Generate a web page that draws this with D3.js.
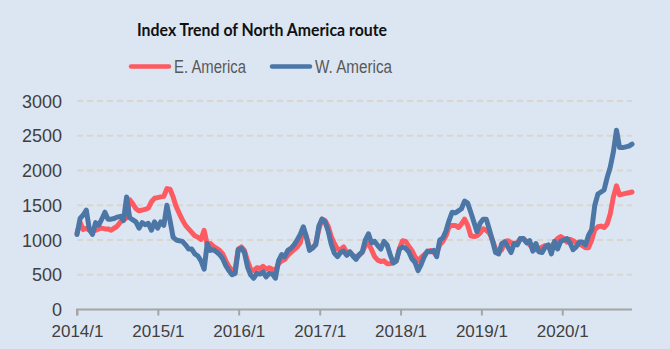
<!DOCTYPE html>
<html>
<head>
<meta charset="utf-8">
<script src="https://cdn.jsdelivr.net/npm/d3@7"></script>
<style>
  html, body { margin: 0; padding: 0; background: #dce6f2; }
  svg { display: block; }
</style>
</head>
<body>
<svg id="chart"></svg>
<script>
// biweekly index readings, first week of 2014 onwards
const eastAmerica = [
  1100, 1250, 1150, 1170, 1140, 1140, 1140, 1160, 1170, 1160,
  1160, 1140, 1170, 1200, 1260, 1290, 1320, 1580, 1520, 1450,
  1420, 1430, 1440, 1460, 1550, 1600, 1610, 1620, 1630, 1740,
  1730, 1620, 1480, 1380, 1290, 1210, 1160, 1110, 1060, 1040,
  1010, 1140, 930, 950, 910, 880, 850, 800, 700, 620,
  560, 580, 870, 900, 850, 700, 580, 560, 600, 590,
  620, 580, 600, 580, 560, 660, 700, 720, 780, 820,
  860, 900, 960, 1150, 1050, 880, 880, 950, 1150, 1300,
  1280, 1200, 1050, 950, 870, 860, 900, 820, 830, 780,
  760, 780, 820, 920, 950, 860, 760, 710, 690, 700,
  660, 660, 670, 700, 880, 990, 980, 910, 850, 760,
  700, 750, 790, 830, 850, 820, 810, 930, 980, 1060,
  1190, 1210, 1210, 1180, 1230, 1300, 1210, 1060, 1050, 1060,
  1100, 1160, 1140, 1100, 1000, 870, 820, 860, 980, 990,
  960, 950, 960, 1020, 1010, 980, 930, 880, 860, 870,
  900, 920, 900, 910, 960, 1020, 1050, 1020, 970, 1010,
  990, 960, 940, 920, 890, 890, 1000, 1150, 1190, 1200,
  1180, 1230, 1380, 1620, 1780, 1650, 1660, 1670, 1680, 1690
];
const westAmerica = [
  1080, 1310, 1360, 1430, 1150, 1080, 1250, 1215, 1300, 1400,
  1300, 1300, 1310, 1330, 1340, 1280, 1620, 1320, 1290, 1260,
  1170, 1250, 1220, 1240, 1140, 1260, 1170, 1260, 1210, 1500,
  1280, 1040, 1000, 990, 980, 930, 870, 870, 800, 770,
  700, 580, 950, 850, 860, 830, 790, 730, 630, 560,
  500, 520, 860, 880, 820, 610, 500, 450, 520, 510,
  540, 470, 520, 510, 450, 700, 790, 760, 850, 880,
  930, 1000, 1080, 1190, 1040, 850, 890, 930, 1200, 1300,
  1260, 1130, 940, 810, 760, 820, 840, 780, 830, 770,
  720, 790, 830, 1000, 1090, 960, 980, 920, 870, 980,
  930, 790, 670, 700, 870, 900, 880, 830, 730, 680,
  560, 650, 760, 840, 830, 850, 760, 1000, 1030, 1130,
  1280, 1400, 1390, 1420, 1450, 1560, 1530, 1400, 1260, 1120,
  1240, 1300, 1300, 1150, 990, 820, 800, 950, 970, 900,
  820, 950, 930, 1020, 1020, 960, 990, 840, 950, 830,
  820, 900, 930, 800, 980, 870, 980, 1000, 1020, 960,
  860, 900, 970, 970, 930, 1070, 1150, 1500, 1660, 1690,
  1720, 1900, 2050, 2270, 2580, 2330, 2330, 2340, 2350, 2380
];
const startDate = new Date(2014, 0, 1);
const stepDays = 14;
const yTicks = [0, 500, 1000, 1500, 2000, 2500, 3000];
const xTickYears = [2014, 2015, 2016, 2017, 2018, 2019, 2020];
const xTickLabels = ["2014/1", "2015/1", "2016/1", "2017/1", "2018/1", "2019/1", "2020/1"];
const seriesNames = ["E. America", "W. America"];

const width = 670, height = 349;
const plot = { left: 77, right: 632, top: 101, bottom: 309.5 };
const colors = { east: "#fd5a62", west: "#4b76a6" };

const svg = d3.select("#chart").attr("width", width).attr("height", height);
svg.append("rect").attr("width", width).attr("height", height).attr("fill", "#dce6f2");

const dates = eastAmerica.map((_, i) => d3.timeDay.offset(startDate, i * stepDays));

const xScale = d3.scaleTime().domain([startDate, dates[dates.length - 1]]).range([plot.left, plot.right]);
const yScale = d3.scaleLinear().domain([0, 3000]).range([plot.bottom, plot.top]);

// dashed horizontal gridlines
svg.append("g").selectAll("line").data(yTicks.filter(d => d > 0)).enter().append("line")
  .attr("x1", plot.left).attr("x2", plot.right)
  .attr("y1", d => yScale(d)).attr("y2", d => yScale(d))
  .attr("stroke", "#d9d6cf").attr("stroke-width", 2).attr("stroke-dasharray", "6,4");

// y axis labels only, no line
const yAxis = d3.axisLeft(yScale).tickValues(yTicks).tickFormat(d3.format("d")).tickSize(0).tickPadding(0);
const gy = svg.append("g").attr("transform", `translate(62,0)`).call(yAxis);
gy.select(".domain").remove();
gy.selectAll("text")
  .attr("font-family", "'Liberation Sans', Arial, sans-serif")
  .attr("font-size", 18).attr("fill", "#404040").attr("dy", "0.34em");

// x axis
const xAxis = d3.axisBottom(xScale)
  .tickValues(xTickYears.map(y => new Date(y, 0, 1)))
  .tickFormat((_, i) => xTickLabels[i])
  .tickSizeInner(6).tickSizeOuter(0).tickPadding(9);
const gx = svg.append("g").attr("transform", `translate(0,${plot.bottom})`).call(xAxis);
gx.select(".domain").attr("stroke", "#a5a5a5").attr("stroke-width", 2)
  .attr("d", `M${plot.left},6V0H${plot.right}`);
gx.selectAll(".tick line").attr("stroke", "#a5a5a5").attr("stroke-width", 2);
gx.selectAll("text")
  .attr("font-family", "'Liberation Sans', Arial, sans-serif")
  .attr("font-size", 17).attr("fill", "#404040");

// series lines, west drawn on top
const line = d3.line().x((d, i) => xScale(dates[i])).y(d => yScale(d));
[[eastAmerica, colors.east], [westAmerica, colors.west]].forEach(([values, color]) => {
  svg.append("path").datum(values)
    .attr("d", line)
    .attr("fill", "none").attr("stroke", color)
    .attr("stroke-width", 5).attr("stroke-linejoin", "round").attr("stroke-linecap", "round");
});

// title
svg.append("text").attr("x", 262).attr("y", 36).attr("text-anchor", "middle")
  .attr("font-family", "Lato, 'Open Sans', sans-serif").attr("font-weight", "bold")
  .attr("font-size", 16.5).attr("fill", "#111")
  .attr("textLength", 250).attr("lengthAdjust", "spacingAndGlyphs")
  .text("Index Trend of North America route");

// legend
const legendItems = [
  { name: seriesNames[0], color: colors.east, x: 130, textWidth: 72 },
  { name: seriesNames[1], color: colors.west, x: 271, textWidth: 77 }
];
const legend = svg.append("g");
legend.selectAll("line").data(legendItems).enter().append("line")
  .attr("x1", d => d.x + 1).attr("x2", d => d.x + 39)
  .attr("y1", 66.5).attr("y2", 66.5)
  .attr("stroke", d => d.color).attr("stroke-width", 4.5).attr("stroke-linecap", "round");
legend.selectAll("text").data(legendItems).enter().append("text")
  .attr("x", d => d.x + 44).attr("y", 73)
  .attr("font-family", "'Liberation Sans Narrow', 'Liberation Sans', Arial, sans-serif")
  .attr("font-size", 17.5).attr("fill", "#595959")
  .attr("textLength", d => d.textWidth).attr("lengthAdjust", "spacingAndGlyphs")
  .text(d => d.name);
</script>
</body>
</html>
